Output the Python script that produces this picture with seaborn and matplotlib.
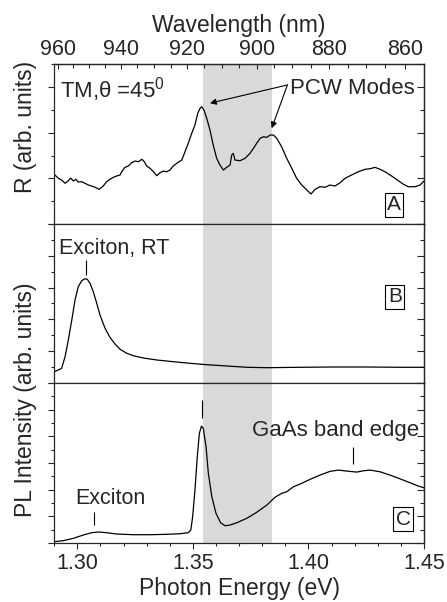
import matplotlib
matplotlib.use('Agg')
import matplotlib.pyplot as plt
from matplotlib.ticker import MultipleLocator, FixedLocator, FormatStrFormatter
import seaborn as sns

# --- data ---
# panel A: reflectivity R (arb. units), TM, theta = 45 deg
r_energy = [1.2903, 1.2918, 1.2932, 1.2947, 1.2961, 1.2971, 1.2983, 1.2994, 1.3004, 1.3019,
            1.3033, 1.3048, 1.3062, 1.3077, 1.3095, 1.3112, 1.3127, 1.3141, 1.3156, 1.3170,
            1.3185, 1.3192, 1.3206, 1.3221, 1.3235, 1.3250, 1.3264, 1.3279, 1.3290, 1.3300,
            1.3315, 1.3329, 1.3344, 1.3358, 1.3372, 1.3387, 1.3401, 1.3415, 1.3430, 1.3452,
            1.3466, 1.3480, 1.3495, 1.3509, 1.3521, 1.3531, 1.3538, 1.3548, 1.3560, 1.3574,
            1.3588, 1.3603, 1.3617, 1.3632, 1.3646, 1.3661, 1.3668, 1.3675, 1.3682, 1.3704,
            1.3726, 1.3747, 1.3762, 1.3776, 1.3791, 1.3805, 1.3820, 1.3834, 1.3848, 1.3863,
            1.3884, 1.3906, 1.3928, 1.3949, 1.3971, 1.3993, 1.4011, 1.4029, 1.4050, 1.4072,
            1.4093, 1.4115, 1.4137, 1.4158, 1.4187, 1.4216, 1.4245, 1.4267, 1.4288, 1.4310,
            1.4331, 1.4360, 1.4389, 1.4411, 1.4432, 1.4461, 1.4483, 1.4500]
r_signal = [1.075, 1.002, 0.965, 0.893, 0.950, 1.007, 0.943, 0.980, 0.921, 0.928,
            0.893, 0.855, 0.833, 0.805, 0.761, 0.833, 0.928, 0.980, 1.024, 1.053,
            1.075, 1.147, 1.243, 1.272, 1.344, 1.382, 1.366, 1.419, 1.366, 1.272,
            1.221, 1.147, 1.059, 1.125, 1.162, 1.147, 1.184, 1.272, 1.331, 1.404,
            1.586, 1.770, 1.989, 2.171, 2.428, 2.537, 2.572, 2.500, 2.318, 2.061,
            1.732, 1.441, 1.294, 1.184, 1.243, 1.294, 1.513, 1.550, 1.404, 1.388,
            1.441, 1.550, 1.660, 1.770, 1.879, 1.914, 1.901, 1.952, 1.952, 1.879,
            1.695, 1.441, 1.221, 1.002, 0.855, 0.746, 0.658, 0.761, 0.818, 0.805,
            0.855, 0.833, 0.906, 1.002, 1.075, 1.147, 1.200, 1.213, 1.243, 1.200,
            1.147, 1.053, 0.950, 0.871, 0.818, 0.818, 0.855, 0.943]

# panel B: PL at room temperature
rt_energy = [1.2900, 1.2918, 1.2932, 1.2947, 1.2961, 1.2976, 1.2990, 1.3004, 1.3019, 1.3033,
             1.3043, 1.3055, 1.3069, 1.3084, 1.3098, 1.3120, 1.3141, 1.3163, 1.3185, 1.3214,
             1.3242, 1.3286, 1.3344, 1.3415, 1.3488, 1.3560, 1.3646, 1.3733, 1.3820, 1.3964,
             1.4108, 1.4252, 1.4396, 1.4500]
rt_signal = [0.355, 0.409, 0.462, 0.827, 1.352, 1.981, 2.610, 3.028, 3.217, 3.280,
             3.261, 3.135, 2.871, 2.506, 2.138, 1.720, 1.437, 1.226, 1.060, 0.934,
             0.858, 0.786, 0.723, 0.670, 0.619, 0.575, 0.535, 0.494, 0.481, 0.494,
             0.503, 0.503, 0.494, 0.494]

# panel C: PL spectrum
pl_energy = [1.2900, 1.2939, 1.2983, 1.3026, 1.3062, 1.3091, 1.3127, 1.3170, 1.3242, 1.3315,
             1.3387, 1.3444, 1.3480, 1.3491, 1.3499, 1.3509, 1.3519, 1.3528, 1.3537, 1.3545,
             1.3557, 1.3567, 1.3582, 1.3600, 1.3620, 1.3639, 1.3661, 1.3690, 1.3733, 1.3776,
             1.3820, 1.3855, 1.3884, 1.3906, 1.3935, 1.3964, 1.4007, 1.4050, 1.4093, 1.4129,
             1.4166, 1.4209, 1.4238, 1.4267, 1.4310, 1.4353, 1.4396, 1.4440, 1.4476, 1.4500]
pl_signal = [0.049, 0.086, 0.176, 0.300, 0.386, 0.412, 0.386, 0.337, 0.311, 0.311,
             0.326, 0.348, 0.386, 0.487, 0.985, 1.985, 3.232, 4.109, 4.382, 4.296,
             3.607, 2.610, 1.734, 1.112, 0.760, 0.648, 0.674, 0.760, 0.925, 1.150,
             1.423, 1.712, 1.861, 1.921, 2.109, 2.210, 2.386, 2.547, 2.685, 2.734,
             2.697, 2.659, 2.708, 2.734, 2.670, 2.547, 2.408, 2.258, 2.135, 2.071]

band_lo, band_hi = 1.3545, 1.3843   # shaded PCW band
x_lim = (1.29, 1.45)
y_lims = [(0, 3.51), (0, 5.0), (0, 6.0)]
nm_ticks = [960, 940, 920, 900, 880, 860]
nm_minor = list(range(965, 855, -5))
panel_tags = ['A', 'B', 'C']
tag_pos = [(0.919, 0.119), (0.921, 0.541), (0.944, 0.150)]

HC = 1239.84  # eV*nm


def ev2nm(e):
    return HC / e


sns.set_theme(style='ticks')
plt.rcParams['font.family'] = ['Liberation Sans', 'DejaVu Sans']
plt.rcParams['mathtext.fontset'] = 'custom'
plt.rcParams['mathtext.rm'] = 'Liberation Sans'
plt.rcParams['axes.linewidth'] = 0.9

fig = plt.figure(figsize=(4.47, 6.02), dpi=100)
left, width = 0.1213, 0.8272
axA = fig.add_axes([left, 0.6279, width, 0.2658])
axB = fig.add_axes([left, 0.3638, width, 0.2641], sharex=axA)
axC = fig.add_axes([left, 0.0980, width, 0.2658], sharex=axA)
axes = [axA, axB, axC]

curves = [(r_energy, r_signal), (rt_energy, rt_signal), (pl_energy, pl_signal)]
for ax, (xe, ys), yl, tag, tp in zip(axes, curves, y_lims, panel_tags, tag_pos):
    ax.axvspan(band_lo, band_hi, color='#d9d9d9', lw=0, zorder=0)
    sns.lineplot(x=xe, y=ys, ax=ax, color='black', lw=0.9, estimator=None, sort=False)
    ax.set_xlim(*x_lim)
    ax.set_ylim(*yl)
    ax.xaxis.set_major_locator(MultipleLocator(0.05))
    ax.xaxis.set_minor_locator(MultipleLocator(0.01))
    ax.yaxis.set_major_locator(MultipleLocator(1))
    ax.yaxis.set_minor_locator(MultipleLocator(0.5))
    ax.tick_params(axis='both', which='major', direction='out', length=4, width=0.8,
                   labelsize=15.5, pad=3)
    ax.tick_params(axis='both', which='minor', direction='out', length=2.3, width=0.8)
    ax.tick_params(axis='y', labelleft=False)
    ax.set_ylabel('')
    for sp in ax.spines.values():
        sp.set_visible(True)
        sp.set_linewidth(0.9)
    # inward ticks on the right edge
    sec = ax.secondary_yaxis('right', functions=(lambda v: v, lambda v: v))
    sec.yaxis.set_major_locator(MultipleLocator(1))
    sec.yaxis.set_minor_locator(MultipleLocator(0.5))
    sec.tick_params(which='major', direction='in', length=5, width=0.8, labelright=False)
    sec.tick_params(which='minor', direction='in', length=2.8, width=0.8)
    sec.spines['right'].set_linewidth(0.9)
    ax.text(tp[0], tp[1], tag, transform=ax.transAxes, ha='center', va='center',
            fontsize=15, bbox=dict(boxstyle='square,pad=0.12', fc='white', ec='black', lw=0.8))

axA.tick_params(axis='x', labelbottom=False)
axB.tick_params(axis='x', labelbottom=False)
axC.xaxis.set_major_formatter(FormatStrFormatter('%.2f'))
axC.set_xlabel('Photon Energy (eV)', fontsize=16.5, labelpad=2)

# wavelength axis on top
top = axA.secondary_xaxis('top', functions=(ev2nm, ev2nm))
top.xaxis.set_major_locator(FixedLocator(nm_ticks))
top.xaxis.set_minor_locator(FixedLocator(nm_minor))
top.tick_params(which='major', direction='in', length=3.5, width=0.8, labelsize=15.5, pad=3)
top.tick_params(which='minor', direction='in', length=3, width=0.8)
top.spines['top'].set_linewidth(0.9)
top.set_xlabel('Wavelength (nm)', fontsize=16.5, labelpad=5)

# panel A annotations
axA.text(1.2925, 2.94, r'TM,θ =45$^{0}$', fontsize=16, ha='left', va='center')
axA.text(1.3921, 2.98, 'PCW Modes', fontsize=16, ha='left', va='center')
mode_marks = [(1.3574, 2.65), (1.3841, 2.10)]
for mx, my in mode_marks:
    axA.annotate('', xy=(mx, my), xytext=(1.3909, 3.05),
                 arrowprops=dict(arrowstyle='-|>', color='black', lw=0.8,
                                 mutation_scale=9, shrinkA=0, shrinkB=0))

# panel B annotations
axB.text(1.2921, 4.245, 'Exciton, RT', fontsize=15.5, ha='left', va='center')
axB.vlines(1.3038, 3.40, 3.87, color='black', lw=0.8)

# panel C annotations
axC.text(1.2990, 1.685, 'Exciton', fontsize=15.5, ha='left', va='center')
axC.vlines(1.3074, 0.674, 1.17, color='black', lw=0.8)
axC.vlines(1.3541, 4.68, 5.36, color='black', lw=0.8)
axC.text(1.3756, 4.23, 'GaAs band edge', fontsize=16, ha='left', va='center')
axC.vlines(1.4192, 2.96, 3.61, color='black', lw=0.8)

fig.text(0.056, 0.789, 'R (arb. units)', rotation=90, ha='center', va='center', fontsize=16.5)
fig.text(0.056, 0.3355, 'PL Intensity (arb. units)', rotation=90, ha='center', va='center',
         fontsize=16.5)

fig.savefig('out.png', dpi=100)
